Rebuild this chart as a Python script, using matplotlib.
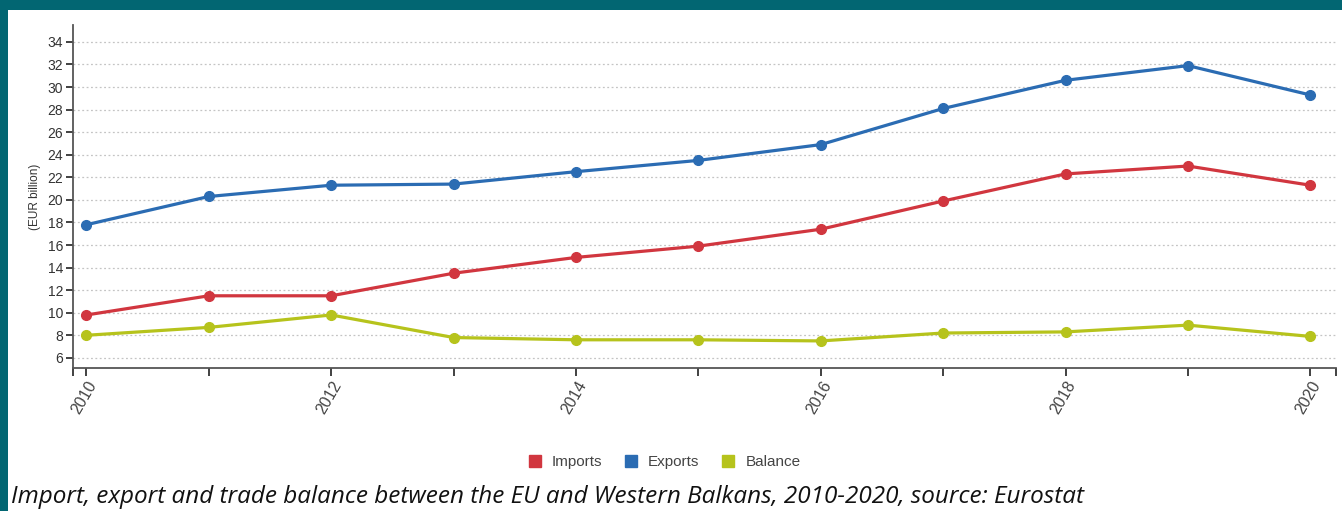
import numpy as np
import matplotlib
matplotlib.use("Agg")
import matplotlib.pyplot as plt
import matplotlib.patches as patches
import matplotlib.transforms as mtransforms
from matplotlib.lines import Line2D

# Data (EUR billion)
years = [2010, 2011, 2012, 2013, 2014, 2015, 2016, 2017, 2018, 2019, 2020]
imports = [9.8, 11.5, 11.5, 13.5, 14.9, 15.9, 17.4, 19.9, 22.3, 23.0, 21.3]
exports = [17.8, 20.3, 21.3, 21.4, 22.5, 23.5, 24.9, 28.1, 30.6, 31.9, 29.3]
balance = [8.0, 8.7, 9.8, 7.8, 7.6, 7.6, 7.5, 8.2, 8.3, 8.9, 7.9]
series_names = ["Imports", "Exports", "Balance"]
y_ticks = list(range(6, 36, 2))
caption = "Import, export and trade balance between the EU and Western Balkans, 2010-2020, source: Eurostat"

colors = ["#d1363f", "#2b6cb3", "#b6c31c"]
teal = "#026672"
plt.rcParams['font.family'] = ['Liberation Sans', 'DejaVu Sans']

fig = plt.figure(figsize=(13.42, 5.11), dpi=100, facecolor=teal)
# white panel inside the teal frame
fig.patches.append(patches.Rectangle((8 / 1342, 0), 1, 1 - 10 / 511,
                                     transform=fig.transFigure, facecolor="white",
                                     edgecolor="none", zorder=-5))

ax = fig.add_axes([73 / 1342, 1 - 368 / 511, (1336 - 73) / 1342, (368 - 25) / 511])
ax.set_facecolor("none")

for vals, col in zip([imports, exports, balance], colors):
    ax.plot(years, vals, color=col, linewidth=2.3, marker="o", markersize=7, zorder=3)

x0, x1 = 2009.89, 2020.21
ax.set_xlim(x0, x1)
ax.set_ylim(5.1, 35.5)

ax.tick_params(axis="x", direction="out", length=6, width=1.3, color="#333333", pad=4)
ax.tick_params(axis="y", direction="out", length=5, width=1.3, color="#333333", pad=2)

ax.set_yticks(y_ticks)
ax.set_yticklabels([str(v) for v in y_ticks], fontsize=10, color="#333333")
# year ticks plus the two outer ticks at the ends of the axis
ax.set_xticks([x0] + years + [x1])
ax.set_xticklabels([""] + [str(y) if y % 2 == 0 else "" for y in years] + [""],
                   rotation=60, fontsize=11.5, color="#444444",
                   ha="right", va="center", rotation_mode="anchor")
shift = mtransforms.ScaledTranslation(7 / 100, 0, fig.dpi_scale_trans)
for lab in ax.get_xticklabels():
    lab.set_transform(lab.get_transform() + shift)

for s in ["top", "right"]:
    ax.spines[s].set_visible(False)
for s in ["left", "bottom"]:
    ax.spines[s].set_color("#555555")
    ax.spines[s].set_linewidth(1.3)

ax.yaxis.grid(True, linestyle=(0, (1.5, 2)), color="#c4c4c4", linewidth=0.9)
ax.set_axisbelow(True)

ax.set_ylabel("(EUR billion)", fontsize=8.5, color="#333333", labelpad=5)

handles = [Line2D([], [], marker="s", linestyle="None", markersize=9,
                  markerfacecolor=c, markeredgecolor=c) for c in colors]
fig.legend(handles, series_names, loc="center", bbox_to_anchor=(660 / 1342, 1 - 462 / 511),
           ncol=3, frameon=False, fontsize=11, handletextpad=0.1, columnspacing=0.9,
           labelcolor="#444444")

fig.text(11 / 1342, 1 - 497 / 511, caption, fontsize=17.5, style="italic",
         family="Open Sans", color="#111111", va="center", ha="left")

fig.savefig("out.png", dpi=100, facecolor=teal)
